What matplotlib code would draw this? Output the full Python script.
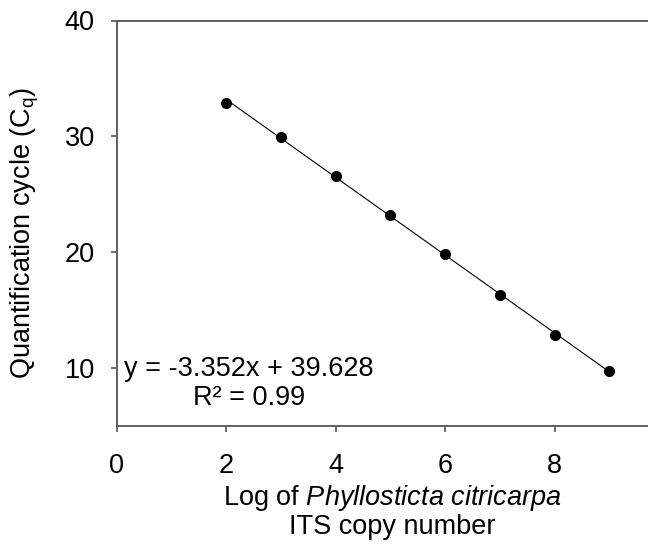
import numpy as np
import matplotlib
matplotlib.use("Agg")
import matplotlib.pyplot as plt

# Standard curve data
log_copies = [2, 3, 4, 5, 6, 7, 8, 9]
cq_values = [32.9, 29.95, 26.6, 23.2, 19.8, 16.3, 12.8, 9.75]
x_ticks = [0, 2, 4, 6, 8]
y_ticks = [10, 20, 30, 40]
equation = "y = -3.352x + 39.628\nR\u00b2 = 0.99"

plt.rcParams['font.family'] = ['Liberation Sans', 'DejaVu Sans']
plt.rcParams['mathtext.fontset'] = 'custom'
plt.rcParams['mathtext.rm'] = 'Liberation Sans'
plt.rcParams['mathtext.it'] = 'Liberation Sans:italic'
fs = 19.5

grey = '#555555'

fig = plt.figure(figsize=(6.48, 5.52), dpi=100)
# axes run to x=10, the right part is cut off by the figure edge like the original
ax = fig.add_axes([117/648, 1 - 425.7/552, 547/648, (425.7 - 20.5)/552])

x = np.array(log_copies)
y = np.array(cq_values)
slope, intercept = np.polyfit(x, y, 1)
xs = np.array([x.min(), x.max()])
ax.plot(xs, slope*xs + intercept, color='black', lw=0.8, zorder=2)
ax.plot(x, y, 'o', color='black', ms=7, zorder=3)

ax.set_xlim(0, 10)
ax.set_ylim(5, 40)
ax.set_xticks(x_ticks)
ax.set_yticks(y_ticks)

for s in ['left', 'bottom', 'top']:
    ax.spines[s].set_color(grey)
    ax.spines[s].set_linewidth(1.3)
ax.spines['right'].set_visible(False)
ax.tick_params(direction='out', length=4, width=1.2, color=grey, labelsize=fs)
ax.tick_params(axis='x', pad=16)
ax.tick_params(axis='y', pad=12)

ax.text(2.41, 8.67, equation, ha='center', va='center', multialignment='center',
        fontsize=fs, linespacing=1.15)

fig.text(25/648, 1 - 233/552, "Quantification cycle (C$_\\mathregular{q}$)",
         rotation=90, ha='center', va='center', fontsize=fs)
fig.text(392/648, 1 - 498/552, "Log of $\\it{Phyllosticta\\ citricarpa}$",
         ha='center', va='center', fontsize=fs)
fig.text(392/648, 1 - 527/552, "ITS copy number",
         ha='center', va='center', fontsize=fs)

fig.savefig("out.png", dpi=100)
